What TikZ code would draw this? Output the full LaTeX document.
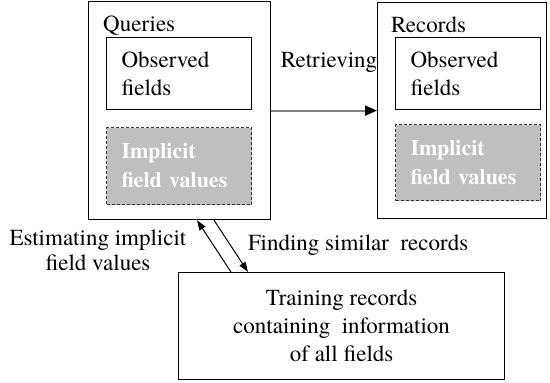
\documentclass[tikz,border=0pt]{standalone}
\usepackage{fontspec}
\setmainfont{TeX Gyre Termes}
\usetikzlibrary{arrows.meta,calc}
\definecolor{linegray}{gray}{0.5}
\definecolor{boxgray}{gray}{0.75}
\begin{document}
\begin{tikzpicture}[x=1pt,y=-1pt,
  every node/.style={font=\fontsize{23}{28}\selectfont, inner sep=0pt},
  outerbox/.style={draw, line width=1.2pt, anchor=north west},
  fieldbox/.style={draw, line width=1pt, anchor=north west, align=left,
    inner xsep=15pt, text width=115pt, minimum width=145pt},
  hiddenbox/.style={fieldbox, draw=black!80, dash pattern=on 3pt off 2pt,
    fill=boxgray, text=white, font=\bfseries\fontsize{22}{29}\selectfont},
  caption/.style={anchor=west},
  flow/.style={line width=1pt, -{Triangle[length=10pt,width=7pt]}},
]
\useasboundingbox (0,0) rectangle (550,383);

% query side
\node[outerbox, minimum width=182pt, minimum height=218pt] (queries) at (88,1) {};
\node[caption] (qtitle) at (103,26) {Queries};
\node[fieldbox, minimum height=72pt] (qobs) at (106,37) {Observed\\fields};
\node[hiddenbox, minimum height=77pt] (qimp) at (106,127) {Implicit\\field values};

% record side
\node[outerbox, minimum width=169pt, minimum height=216pt] (records) at (377,2) {};
\node[caption] (rtitle) at (391,25) {Records};
\node[fieldbox, minimum height=72pt] (robs) at (395,37) {Observed\\fields};
\node[hiddenbox, minimum height=76pt] (rimp) at (395,124) {Implicit\\field values};

% retrieval link
\node (retr) at (329,62) {Retrieving};
\draw[linegray, line width=2pt, -{Triangle[color=black,length=12pt,width=10pt]}]
  (queries.east) -- (records.west);

% training set
\node[draw, line width=1.2pt, anchor=north west, minimum width=326pt,
  minimum height=107pt, align=center] (train) at (178,272)
  {Training records\\containing\ \ information\\of all fields};

% estimation and search links
\draw[flow] ([xshift=53pt]train.north west) -- ([xshift=109pt]queries.south west);
\draw[flow] ([xshift=126pt]queries.south west) -- ([xshift=70pt]train.north west);
\node[align=center, font=\fontsize{23}{25}\selectfont] (est) at (98,250)
  {Estimating implicit\\field values};
\node[caption] (find) at (248,245) {Finding similar\ \ records};
\end{tikzpicture}
\end{document}
